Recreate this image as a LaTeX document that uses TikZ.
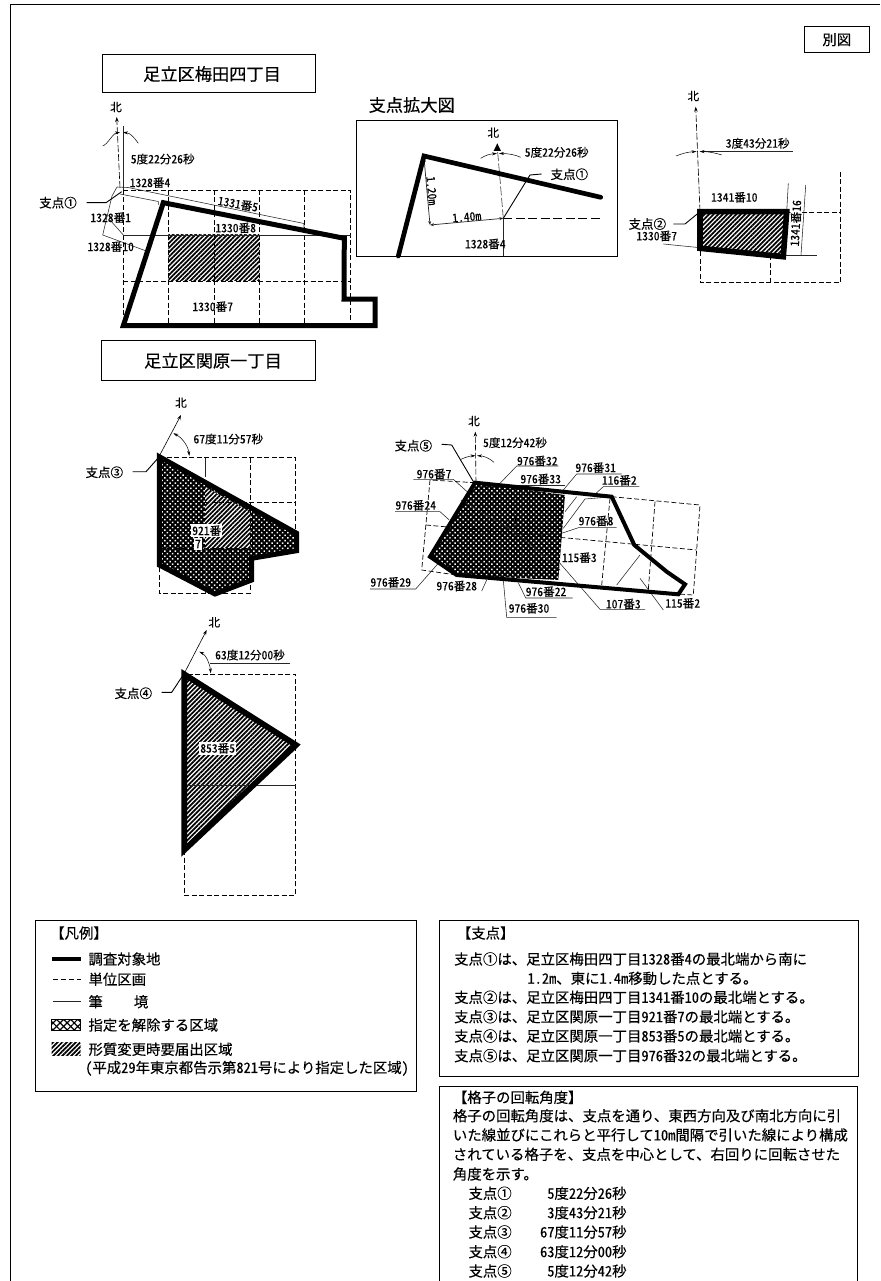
\documentclass[tikz,border=0pt]{standalone}
\usepackage{fontspec}
\setmainfont{Noto Sans CJK JP}[RawFeature={+hwid},FakeBold=0.25]
\usetikzlibrary{patterns.meta,arrows.meta}
\newcommand\fsA{\fontsize{11.6}{14}\selectfont}
\newcommand\fsB{\fontsize{14.4}{17}\selectfont}
\newcommand\fsC{\fontsize{17.2}{20}\selectfont}
\newcounter{tn}
% \lab[opts]{x,y}{text}: small label
\newcommand\lab[3][]{\stepcounter{tn}\node[lab,#1] (t\thetn) at (#2) {#3};}
\newcommand\txt[3][]{\stepcounter{tn}\node[bodytext,#1] (t\thetn) at (#2) {#3};}
\tikzset{
  lab/.style={inner sep=0pt,font=\fsA,text=black},
  bodytext/.style={inner sep=0pt,font=\fsB,anchor=west,text=black},
  titlebox/.style={draw=black,line width=1pt,fill=white,inner sep=0pt,font=\fsC},
  frame/.style={draw=black,line width=1pt},
  site/.style={draw=black,line width=5pt,line join=miter,line cap=round},
  grid10/.style={draw=black,line width=.7pt,dash pattern=on 5pt off 2.5pt},
  bound/.style={draw=black!85,line width=.55pt},
  lead/.style={draw=black,line width=.9pt},
  hatchfill/.style={pattern={Lines[angle=45,distance=3.2pt,line width=1.75pt]},pattern color=black},
  dotfill/.style={fill=black},
  dotover/.style={pattern={Dots[angle=45,distance=3.7pt,radius=1.05pt]},pattern color=white},
  northline/.style={draw=black,line width=.6pt,dash pattern=on 7pt off 2pt,-{Stealth[length=5pt,width=3.5pt]}},
  arcln/.style={draw=black,line width=.5pt,-{Stealth[length=5pt,width=3pt]}},
}
\begin{document}
\begin{tikzpicture}[x=1pt,y=-1pt]
\useasboundingbox (0,0) rectangle (880,1281);
\fill[white] (0,0) rectangle (880,1281);
% outer frame
\draw[frame] (10,1281) -- (10,5) -- (880,5);
% sheet tag
\node[titlebox,minimum width=65pt,minimum height=26pt] (beppyo) at (836.8,39.7) {\fsB 別図};
% ---------- title boxes
\node[titlebox,minimum width=213pt,minimum height=38pt] (umeda) at (208.5,74) {\hspace{7pt}足立区梅田四丁目};
\node[titlebox,minimum width=214pt,minimum height=40pt] (sekibara) at (208,360.7) {\hspace{10pt}足立区関原一丁目};
\txt[font=\fsC,anchor=center]{411.7,105}{支点拡大図}
% ---------- site 1
\fill[hatchfill] (168.3,235) rectangle (259.3,280.7);
\draw[grid10] (123.3,190) -- (350.7,190) -- (350.7,326);
\foreach \x in {123.3,168.3,214,259.3,304.3}{\draw[grid10] (\x,190) -- (\x,326);}
\draw[grid10] (123.3,281) -- (350.7,281);
\draw[bound] (123.3,235) -- (350.7,235);
\draw[bound] (123.3,126) -- (123.3,190);
\draw[northline] (120,188) -- (116.7,117);
\draw[arcln] (102.7,146) .. controls (108,144) and (113,133) .. (120,132.5);
\draw[arcln] (138.3,143.3) .. controls (133,136) and (130,133) .. (123,132.5);
\draw[bound] (117,187) -- (128,187.5) -- (304,223.5) -- (304,230);
\draw[bound] (117,187) -- (112,196) -- (102.7,235) -- (145,250.5);
\draw[bound] (120,194) -- (158.3,201.5) -- (158.3,205);
\draw[bound] (110,220) -- (123.3,235);
\draw[lead] (86.7,202.7) -- (106,202.7) -- (121.7,191.7);
\draw[site] (163.3,202.7) -- (344.3,238.3) -- (344,299) -- (375,299) -- (375,325.7) -- (123.3,325.7) -- cycle;
\lab{116,107}{北}
\lab{162.7,159}{5度22分26秒}
\lab{150,182.7}{1328番4}
\lab[font=\fontsize{12.5}{14}\selectfont]{58,202.7}{支点①}
\lab{110.7,217.7}{1328番1}
\lab{110.7,246.7}{1328番10}
\lab[rotate=-10]{238,204}{1331番5}
\lab{235.7,228}{1330番8}
\lab{212.7,306.7}{1330番7}
% ---------- enlarged view
\draw[frame,fill=white] (356.7,120.7) rectangle (617.3,256);
\draw[grid10,dash pattern=on 9pt off 3.5pt] (503.3,218.3) -- (603,218.3);
\draw[bound,line width=.7pt] (503.3,218.3) -- (503.3,256);
\draw[bound,dash pattern=on 9pt off 2.5pt] (503.3,218.3) -- (497.5,150);
\fill[black] (497.3,143.3) -- (501,151) -- (493.6,151) -- cycle;
\draw[arcln] (480.7,158.3) .. controls (486,155) and (490,154) .. (497,153.5);
\draw[arcln] (520.7,157.3) .. controls (515,154.5) and (507,153.5) .. (499,153.5);
\draw[bound,line width=.7pt,{Stealth[length=4pt,width=3pt]}-{Stealth[length=4pt,width=3pt]}] (430,225) -- (503.3,218.3);
\draw[bound,line width=.7pt,{Stealth[length=4pt,width=3pt]}-{Stealth[length=4pt,width=3pt]}] (424,158) -- (430,225);
\draw[lead] (503.3,218.3) -- (530,175) -- (541.7,174);
\draw[site,line width=4.7pt] (398.3,256) -- (424,156) -- (600.7,197.3);
\lab{493.3,132.7}{北}
\lab{556.7,152.3}{5度22分26秒}
\lab[font=\fontsize{12.5}{14}\selectfont]{569.3,174.3}{支点①}
\lab[rotate=5]{466.7,217}{1.40m}
\lab[rotate=-85]{431.7,190.7}{1.20m}
\lab{485.3,244}{1328番4}
% ---------- site 2
\fill[hatchfill] (700,211.7) -- (786.7,211.7) -- (783.3,256.7) -- (700,248.3) -- cycle;
\draw[grid10] (786.7,212) -- (840,212);
\draw[grid10] (840,171.7) -- (840,282.7) -- (700,282.7) -- (700,248);
\draw[grid10] (770,255) -- (770,282.7);
\draw[northline] (700,211.7) -- (695.7,106.7);
\draw[bound] (701.7,151.7) -- (793.3,151.7);
\draw[arcln] (676,156) .. controls (682,153.5) and (688,152) .. (696.5,151.5);
\draw[arcln] (721.7,155) .. controls (714,152.5) and (708,151.7) .. (699.5,151.5);
\draw[bound] (788.3,183.3) -- (786.7,211.7);
\draw[bound] (805.7,185) -- (801,255);
\draw[bound] (783,255.7) -- (816.7,255.7);
\draw[bound] (663.3,244) -- (700,247.7);
\draw[lead] (673.3,224) -- (685,224) -- (700,211.7);
\draw[site,line width=5.6pt] (700,211.7) -- (786.7,211.7) -- (783.3,256.7) -- (700,248.3) -- cycle;
\lab{693.3,96}{北}
\lab{757.7,143.3}{3度43分21秒}
\lab{734.3,197.3}{1341番10}
\lab[rotate=87,fill=white,inner sep=.5pt]{795.7,223.3}{1341番16}
\lab[font=\fontsize{12.5}{14}\selectfont]{647.3,224}{支点②}
\lab{656.7,236}{1330番7}
% ---------- site 3
\fill[dotfill] (159.3,456.7) -- (296.7,533.3) -- (296.7,550.7) -- (251.7,558.3) -- (251.7,580) -- (215,594) -- (159.3,565) -- cycle;
\fill[dotover] (159.3,456.7) -- (296.7,533.3) -- (296.7,550.7) -- (251.7,558.3) -- (251.7,580) -- (215,594) -- (159.3,565) -- cycle;
\fill[white] (205,487) -- (250.3,512) -- (250.3,548) -- (205,548) -- cycle;
\fill[hatchfill] (205,487) -- (250.3,512) -- (250.3,548) -- (205,548) -- cycle;
\draw[grid10] (159.3,457.7) -- (295.7,457.7) -- (295.7,535);
\draw[grid10] (250.3,457.7) -- (250.3,593.3) -- (159.3,593.3) -- (159.3,565);
\draw[grid10] (159.3,502.7) -- (295.7,502.7);
\draw[grid10] (159.3,548) -- (250.3,548);
\draw[bound,line width=.8pt] (205,457.7) -- (205,477);
\draw[bound,line width=.8pt] (205,548) -- (205,593);
\draw[northline,dash pattern=on 20pt off 0pt] (159.3,456) -- (181,415);
\draw[arcln,{Stealth[length=5pt,width=3pt]}-{Stealth[length=5pt,width=3pt]}] (173.3,433.3) .. controls (181,437) and (188,445) .. (189.3,456);
\draw[lead] (132.7,471.7) -- (146,471.7) -- (159.3,456.7);
\draw[site] (159.3,456.7) -- (296.7,533.3) -- (296.7,550.7) -- (251.7,558.3) -- (251.7,580) -- (215,594) -- (159.3,565) -- cycle;
\lab{181,402.7}{北}
\lab{228.3,439}{67度11分57秒}
\lab[font=\fontsize{12.5}{14}\selectfont]{104.3,472.3}{支点③}
\lab[fill=white,inner sep=1pt]{206.7,530.7}{921番}
\lab[fill=white,inner sep=1.5pt]{198,544}{7}
% ---------- site 4
\fill[hatchfill] (184.3,674.3) -- (296,745) -- (184.3,850) -- cycle;
\draw[grid10] (184.3,850) -- (184.3,895) -- (295.7,895) -- (295.7,674.3) -- (184.3,674.3);
\draw[bound,line width=.7pt] (184.3,785) -- (295.7,785);
\draw[northline,dash pattern=on 20pt off 0pt] (184.3,673.3) -- (206.7,630);
\draw[arcln,{Stealth[length=5pt,width=3pt]}-{Stealth[length=5pt,width=3pt]}] (199.3,651.7) .. controls (206,655) and (210,664) .. (210.7,673.3);
\draw[bound] (210,663.3) -- (290,663.3);
\draw[lead] (161.7,692.3) -- (171.7,692.3) -- (184.3,673.3);
\draw[site,line width=5.8pt] (184.3,674.3) -- (296,745) -- (184.3,850) -- cycle;
\lab{214.3,622.3}{北}
\lab{250,655}{63度12分00秒}
\lab[font=\fontsize{12.5}{14}\selectfont]{133.3,693.3}{支点④}
\lab[fill=white,inner sep=1.2pt]{217.7,748.3}{853番5}
% ---------- site 5
\fill[dotfill] (475,482.7) -- (565,495) -- (558.3,580) -- (456.7,575) -- (430,556.7) -- cycle;
\fill[dotover] (475,482.7) -- (565,495) -- (558.3,580) -- (456.7,575) -- (430,556.7) -- cycle;
\draw[grid10] (611.7,496.7) -- (700,505) -- (693.3,595) -- (678,594);
\draw[grid10] (475,482.7) -- (430,480) -- (421.7,570) -- (456.7,575);
\draw[grid10] (426,525) -- (696.7,550);
\draw[grid10] (655,501.7) -- (648.3,590);
\draw[grid10] (610,498.3) -- (601.7,585);
\draw[grid10] (516.7,487) -- (513.3,580);
\draw[bound] (461,500) -- (516.7,533) -- (560,570);
\draw[northline,dash pattern=on 6pt off 2pt] (476,482.7) -- (475.3,431.7);
\draw[arcln] (461,459.3) .. controls (466,457) and (470,456) .. (475.5,455.7);
\draw[arcln] (494,462.3) .. controls (489,458) and (484,456) .. (477,455.7);
\draw[lead] (441.7,444.3) -- (451.7,445) -- (474,482.7);
\draw[bound] (565,511.7) -- (576.7,496.7);
\draw[bound] (563.3,528.3) -- (585,499) -- (610,497);
\draw[bound] (560,563.3) -- (600,609.3) -- (645,609.3);
\draw[bound] (616.7,585) -- (640,555);
\draw[bound] (640,578.3) -- (663.3,610);
\draw[bound] (500,483.3) -- (516.7,466) -- (558.3,466);
\draw[bound] (563.3,490) -- (576.7,474) -- (621.7,474);
\draw[bound] (518.3,485.7) -- (565,485.7);
\draw[bound] (596,493.3) -- (603.3,486.7) -- (639.3,486.7);
\draw[bound] (413.3,479.3) -- (453.3,479.3) -- (468.3,492.7);
\draw[bound] (395,511.7) -- (440,511.7) -- (449.3,520);
\draw[bound] (561.7,533.3) -- (578.3,527.7) -- (616.7,527.7);
\draw[bound] (370,589) -- (415.7,589) -- (438.3,563.3);
\draw[bound] (486.7,580) -- (481.7,591);
\draw[bound] (518.3,582.7) -- (525.7,598) -- (572.7,598);
\draw[bound] (503.3,580) -- (506.7,617.3) -- (556.7,617.3);
\draw[site,line width=4pt] (475,482.7) -- (611.7,496.7) -- (634.3,545) -- (666.7,571.7) -- (685,584.3) -- (678.3,594.3) -- (456.7,575) -- (430,556.7) -- cycle;
\lab{474,421}{北}
\lab{515,442.7}{5度12分42秒}
\lab[font=\fontsize{12.5}{14}\selectfont]{413.3,445.7}{支点⑤}
\lab{537.3,461}{976番32}
\lab{595.7,467.7}{976番31}
\lab{540.7,479}{976番33}
\lab{619.3,480.3}{116番2}
\lab{434,474}{976番7}
\lab{415.7,505.3}{976番24}
\lab{596,521}{976番8}
\lab{579.3,557.7}{115番3}
\lab{390.7,582.3}{976番29}
\lab{456.7,586}{976番28}
\lab{546,591.7}{976番22}
\lab{529,608.3}{976番30}
\lab{623.3,604}{107番3}
\lab{682.7,603.3}{115番2}
% ---------- legend
\draw[frame] (35.7,920) rectangle (416.7,1091);
\txt{50,933}{【凡例】}
\draw[draw=black,line width=4pt] (52.3,959) -- (80.7,959);
\txt{88.3,959}{調査対象地}
\draw[draw=black,line width=.7pt,dash pattern=on 5pt off 3pt] (53,979.3) -- (80.7,979.3);
\txt{88.3,979.3}{単位区画}
\draw[bound] (53,1001.7) -- (80.7,1001.7);
\txt{88.3,1001.7}{筆\hspace{31pt}境}
\draw[draw=black,line width=.7pt,pattern={Lines[angle=45,distance=5pt,line width=1.2pt]}] (51.7,1019.3) rectangle (80.7,1030.7);
\fill[pattern={Lines[angle=-45,distance=5pt,line width=1.2pt]}] (51.7,1019.3) rectangle (80.7,1030.7);
\txt{88.3,1025}{指定を解除する区域}
\fill[hatchfill] (51.7,1042.7) rectangle (80.7,1055);
\txt{88.3,1049.3}{形質変更時要届出区域}
\txt{85,1068.3}{（平成29年東京都告示第821号により指定した区域）}
% ---------- fulcrum box
\draw[frame] (439.3,920) rectangle (858,1076.7);
\txt{456.7,933}{【支点】}
\txt{454,959}{支点①は、足立区梅田四丁目1328番4の最北端から南に}
\txt{527.3,978.3}{1.2m、東に1.4m移動した点とする。}
\txt{454,997.3}{支点②は、足立区梅田四丁目1341番10の最北端とする。}
\txt{454,1016.7}{支点③は、足立区関原一丁目921番7の最北端とする。}
\txt{454,1036}{支点④は、足立区関原一丁目853番5の最北端とする。}
\txt{454,1055.7}{支点⑤は、足立区関原一丁目976番32の最北端とする。}
% ---------- rotation box
\draw[frame] (439.3,1281.5) -- (439.3,1086) -- (857.7,1086) -- (857.7,1281.5);
\txt{452.7,1097.3}{【格子の回転角度】}
\txt{452.7,1115.7}{格子の回転角度は、支点を通り、東西方向及び南北方向に引}
\txt{452.7,1135}{いた線並びにこれらと平行して10m間隔で引いた線により構成}
\txt{452.7,1154.3}{されている格子を、支点を中心として、右回りに回転させた}
\txt{452.7,1174}{角度を示す。}
\txt{468.3,1193.3}{支点①}
\txt{468.3,1212.7}{支点②}
\txt{468.3,1232}{支点③}
\txt{468.3,1251.7}{支点④}
\txt{468.3,1271}{支点⑤}
\txt[anchor=east]{626.7,1193.3}{5度22分26秒}
\txt[anchor=east]{626.7,1212.7}{3度43分21秒}
\txt[anchor=east]{626.7,1232}{67度11分57秒}
\txt[anchor=east]{626.7,1251.7}{63度12分00秒}
\txt[anchor=east]{626.7,1271}{5度12分42秒}
\end{tikzpicture}
\end{document}
